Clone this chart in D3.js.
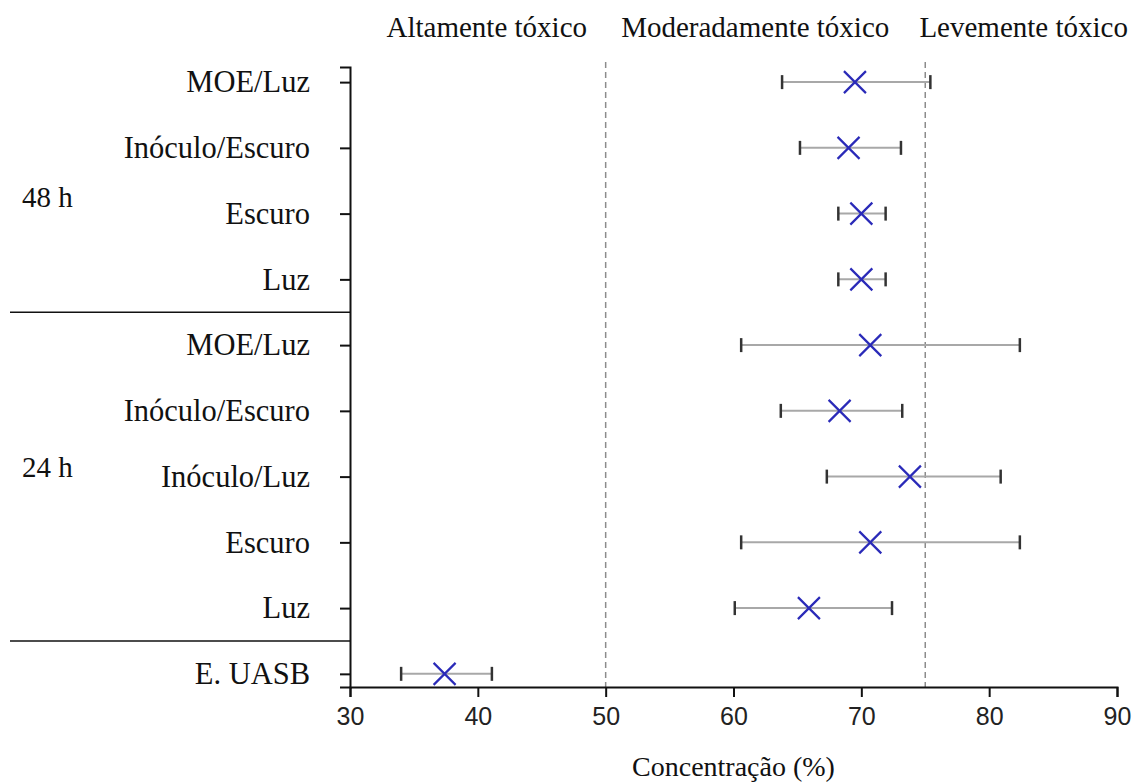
<!DOCTYPE html>
<html>
<head>
<meta charset="utf-8">
<script src="https://d3js.org/d3.v7.min.js"></script>
<style>
    body { margin: 0; background: #fff; }
    .serif { font-family: "Liberation Serif", "Times New Roman", serif; }
</style>
</head>
<body>
<svg id="drawing_region"></svg>
<script>
// rows from bottom (index 0) to top
const labels = ['E. UASB', 'Luz', 'Escuro', 'Inóculo/Luz', 'Inóculo/Escuro', 'MOE/Luz',
                'Luz', 'Escuro', 'Inóculo/Escuro', 'MOE/Luz'];
const means  = [37.4, 65.9, 70.7, 73.8, 68.3, 70.7, 70.0, 70.0, 69.0, 69.5];
const lows   = [34.0, 60.1, 60.6, 67.3, 63.7, 60.6, 68.2, 68.2, 65.2, 63.8];
const highs  = [41.1, 72.4, 82.4, 80.9, 73.2, 82.4, 71.9, 71.9, 73.1, 75.4];

const groups = ['24 h', '48 h'];
const group_pos = [3.15, 7.25];      // in row units
const separators = [0.5, 5.5];
const limits = [50, 75];
const zones = ['Altamente tóxico', 'Moderadamente tóxico', 'Levemente tóxico'];
const zone_pos = [40.7, 61.7, 82.7];
const x_ticks = [30, 40, 50, 60, 70, 80, 90];
const x_minor = [35, 45, 55, 65, 75, 85];

const data = labels.map((d, i) => ({ label: d, i: i, mean: means[i], low: lows[i], high: highs[i] }));

const config = {
    width: 1141,
    height: 782,
    margin: {top: 67, right: 24, bottom: 95, left: 350}
};

const svg = d3.select('#drawing_region')
    .attr('width', config.width)
    .attr('height', config.height);

const inner_height = config.height - config.margin.top - config.margin.bottom;

const chart = svg.append('g')
    .attr('transform', `translate(${config.margin.left}, ${config.margin.top})`);

const xscale = d3.scaleLinear()
    .domain([30, 90])
    .range([0, 767]);

const yscale = d3.scaleLinear()
    .domain([-0.2, 9.23])
    .range([inner_height, 0]);

// dashed limits
chart.selectAll('.limit')
    .data(limits)
    .join('line')
    .attr('class', 'limit')
    .attr('x1', d => xscale(d))
    .attr('x2', d => xscale(d))
    .attr('y1', -5)
    .attr('y2', inner_height)
    .attr('stroke', '#8c8c8c')
    .attr('stroke-width', 1.5)
    .attr('stroke-dasharray', '6,4');

// separators between groups
chart.selectAll('.sep')
    .data(separators)
    .join('line')
    .attr('class', 'sep')
    .attr('x1', -340)
    .attr('x2', 0)
    .attr('y1', d => yscale(d))
    .attr('y2', d => yscale(d))
    .attr('stroke', '#111')
    .attr('stroke-width', 1.5);

// x axis
const xaxis_group = chart.append('g')
    .attr('transform', `translate(0, ${inner_height})`);
xaxis_group.call(d3.axisBottom(xscale).tickValues(x_minor).tickSize(5).tickFormat(''));
xaxis_group.call(d3.axisBottom(xscale).tickValues(x_ticks).tickSize(10).tickPadding(10));
xaxis_group.selectAll('path, line').attr('stroke', '#111').attr('stroke-width', 2);
xaxis_group.selectAll('text')
    .style('font-family', '"Liberation Sans", Arial, sans-serif')
    .style('font-size', '25px')
    .attr('fill', '#222');

// y axis
const yaxis_group = chart.append('g');
yaxis_group.call(d3.axisLeft(yscale)
    .tickValues(d3.range(0, 9).map(i => i + 0.5))
    .tickSize(5).tickFormat(''));
yaxis_group.call(d3.axisLeft(yscale)
    .tickValues(d3.range(0, 10))
    .tickSize(10).tickPadding(30)
    .tickFormat(i => labels[i]));
yaxis_group.selectAll('path, line').attr('stroke', '#111').attr('stroke-width', 2);
yaxis_group.selectAll('text')
    .style('font-family', '"Liberation Serif", "Times New Roman", serif')
    .style('font-size', '30.5px')
    .attr('fill', '#111');

// error bars
const bars = chart.selectAll('.bar')
    .data(data)
    .join('g')
    .attr('class', 'bar')
    .attr('transform', d => `translate(0, ${yscale(d.i)})`);

bars.append('line')
    .attr('x1', d => xscale(d.low))
    .attr('x2', d => xscale(d.high))
    .attr('stroke', '#a8a8a8')
    .attr('stroke-width', 2);

bars.selectAll('.cap')
    .data(d => [d.low, d.high])
    .join('line')
    .attr('class', 'cap')
    .attr('x1', d => xscale(d))
    .attr('x2', d => xscale(d))
    .attr('y1', -7)
    .attr('y2', 7)
    .attr('stroke', '#333')
    .attr('stroke-width', 2.5);

// x markers
const m = 11;
bars.append('path')
    .attr('d', d => {
        const cx = xscale(d.mean);
        return `M${cx - m},${-m}L${cx + m},${m}M${cx - m},${m}L${cx + m},${-m}`;
    })
    .attr('stroke', '#2a2ab8')
    .attr('stroke-width', 2.2)
    .attr('fill', 'none');

// group labels
svg.selectAll('.group')
    .data(groups)
    .join('text')
    .attr('class', 'group serif')
    .attr('x', 22)
    .attr('y', (d, i) => config.margin.top + yscale(group_pos[i]))
    .attr('dy', '0.35em')
    .style('font-size', '29px')
    .attr('fill', '#111')
    .text(d => d);

// zone titles
svg.selectAll('.zone')
    .data(zones)
    .join('text')
    .attr('class', 'zone serif')
    .attr('x', (d, i) => config.margin.left + xscale(zone_pos[i]))
    .attr('y', 37)
    .attr('text-anchor', 'middle')
    .style('font-size', '29px')
    .attr('fill', '#111')
    .text(d => d);

// x label
svg.append('text')
    .attr('class', 'serif')
    .attr('x', config.margin.left + xscale(60))
    .attr('y', 776)
    .attr('text-anchor', 'middle')
    .style('font-size', '28px')
    .attr('fill', '#111')
    .text('Concentração (%)');
</script>
</body>
</html>
